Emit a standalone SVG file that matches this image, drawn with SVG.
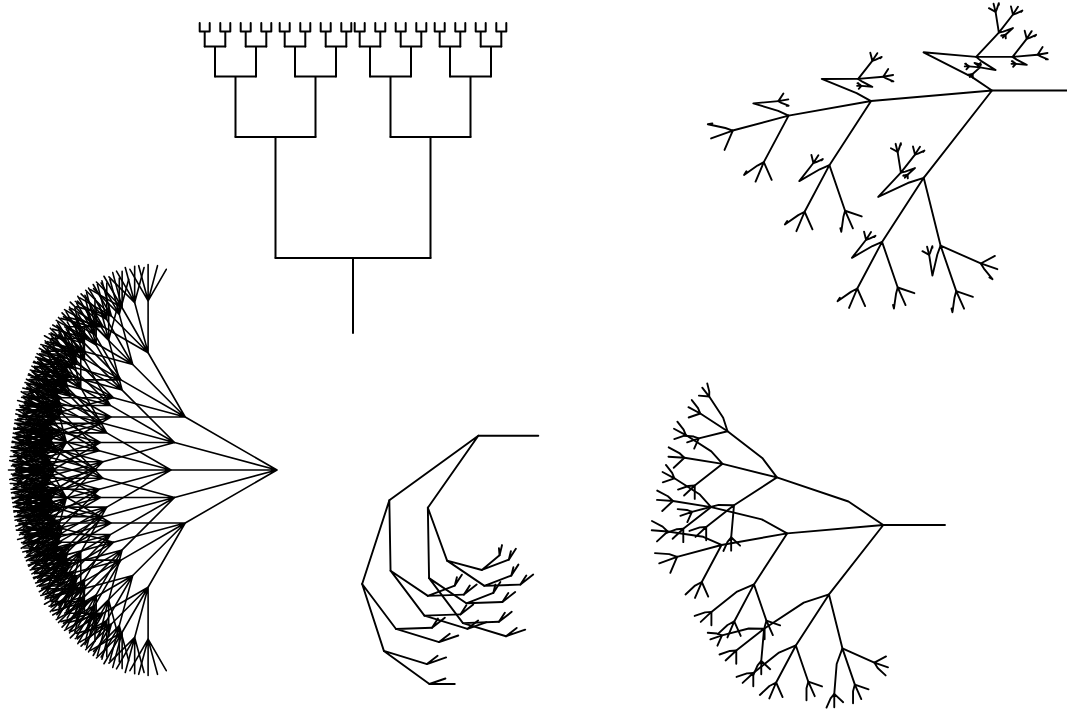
<svg xmlns="http://www.w3.org/2000/svg" width="1067" height="722" viewBox="0 0 1067 722">
<style>
path{fill:none;stroke:#000;stroke-width:1.9;vector-effect:non-scaling-stroke;stroke-linecap:round;stroke-linejoin:round}
path.h{stroke-width:2}
path.f{stroke-width:1.6}
</style>
<defs>
<path id="h5" class="h" d="M0 0V-15M-5-15H5M-5-15V-23.5M5-15V-23.5"/>
<g id="h4"><path class="h" d="M0 0V-30M-10.3-30H10.3"/><use href="#h5" x="-10.3" y="-30"/><use href="#h5" x="10.3" y="-30"/></g>
<g id="h3"><path class="h" d="M0 0V-60.5M-20.5-60.5H20.5"/><use href="#h4" x="-20.5" y="-60.5"/><use href="#h4" x="20.5" y="-60.5"/></g>
<g id="h2"><path class="h" d="M0 0V-121M-40-121H40"/><use href="#h3" x="-40" y="-121"/><use href="#h3" x="40" y="-121"/></g>

<path id="f1" class="f" d="M0 0L-86.6-50M0 0L-96.6-25.9M0 0H-100M0 0L-96.6 25.9M0 0L-86.6 50"/>
<g id="f2"><use href="#f1"/>
<use href="#f1" transform="translate(-86.6 -50) rotate(30) scale(.7)"/>
<use href="#f1" transform="translate(-96.6 -25.9) rotate(15) scale(.7)"/>
<use href="#f1" transform="translate(-100 0) scale(.7)"/>
<use href="#f1" transform="translate(-96.6 25.9) rotate(-15) scale(.7)"/>
<use href="#f1" transform="translate(-86.6 50) rotate(-30) scale(.7)"/></g>
<g id="f3"><use href="#f1"/>
<use href="#f2" transform="translate(-86.6 -50) rotate(30) scale(.7)"/>
<use href="#f2" transform="translate(-96.6 -25.9) rotate(15) scale(.7)"/>
<use href="#f2" transform="translate(-100 0) scale(.7)"/>
<use href="#f2" transform="translate(-96.6 25.9) rotate(-15) scale(.7)"/>
<use href="#f2" transform="translate(-86.6 50) rotate(-30) scale(.7)"/></g>
<g id="f4"><use href="#f1"/>
<use href="#f3" transform="translate(-86.6 -50) rotate(30) scale(.7)"/>
<use href="#f3" transform="translate(-96.6 -25.9) rotate(15) scale(.7)"/>
<use href="#f3" transform="translate(-100 0) scale(.7)"/>
<use href="#f3" transform="translate(-96.6 25.9) rotate(-15) scale(.7)"/>
<use href="#f3" transform="translate(-86.6 50) rotate(-30) scale(.7)"/></g>

<path id="s1" d="M0 0L-14.9-10.1L-44.4-20.3M0 0L-41.2 3.6M0 0L-23.3 29.8"/>
<path id="se" d="M0 0L-24.9-16.8L-76-34M0 0L-68.7 6M0 0L-38.8 49.6"/>
<g id="s2"><use href="#se"/>
<use href="#s1" transform="translate(-76 -34) rotate(19) scale(.58)"/>
<use href="#s1" transform="translate(-68.7 6) rotate(-5) scale(.69)"/>
<use href="#s1" transform="translate(-38.8 49.6) rotate(-52) scale(.63)"/></g>
<g id="s3"><use href="#se"/>
<use href="#s2" transform="translate(-76 -34) rotate(19) scale(.58)"/>
<use href="#s2" transform="translate(-68.7 6) rotate(-5) scale(.69)"/>
<use href="#s2" transform="translate(-38.8 49.6) rotate(-52) scale(.63)"/></g>
<g id="s4"><use href="#se"/>
<use href="#s3" transform="translate(-76 -34) rotate(19) scale(.58)"/>
<use href="#s3" transform="translate(-68.7 6) rotate(-5) scale(.69)"/>
<use href="#s3" transform="translate(-38.8 49.6) rotate(-52) scale(.63)"/></g>

<path id="t1" d="M0 0L-39.8 3.5M0 0L-22.5 28.8M0 0L-11.3-7.6L-38.9-21.7L-30.9-21"/>
<path id="te" d="M0 0L-68.7 6M0 0L-38.8 49.6M0 0L-11.3-7.6L-38.9-21.7L-9-19.1"/>
<g id="t2"><use href="#te"/>
<use href="#t1" transform="translate(-68.7 6) rotate(-5) scale(.69)"/>
<use href="#t1" transform="translate(-38.8 49.6) rotate(-52) scale(.63)"/>
<use href="#t1" transform="translate(-9 -19.1) rotate(-175) scale(.3)"/></g>
<g id="t3"><use href="#te"/>
<use href="#t2" transform="translate(-68.7 6) rotate(-5) scale(.69)"/>
<use href="#t2" transform="translate(-38.8 49.6) rotate(-52) scale(.63)"/>
<use href="#t2" transform="translate(-9 -19.1) rotate(-175) scale(.3)"/></g>
<g id="t4"><use href="#te"/>
<use href="#t3" transform="translate(-68.7 6) rotate(-5) scale(.69)"/>
<use href="#t3" transform="translate(-38.8 49.6) rotate(-52) scale(.63)"/>
<use href="#t3" transform="translate(-9 -19.1) rotate(-175) scale(.3)"/></g>

<path id="m1" d="M0 0L-36.4 26.5M0 0L-17.2 24.6"/>
<path id="me" d="M0 0L-64.7 47M0 0L-36.7 52.4"/>
<g id="m2"><use href="#me"/>
<use href="#m1" transform="translate(-64.7 47) rotate(-36) scale(.8)"/>
<use href="#m1" transform="translate(-36.7 52.4) rotate(-55) scale(.64)"/></g>
<g id="m3"><use href="#me"/>
<use href="#m2" transform="translate(-64.7 47) rotate(-36) scale(.8)"/>
<use href="#m2" transform="translate(-36.7 52.4) rotate(-55) scale(.64)"/></g>
<g id="m4"><use href="#me"/>
<use href="#m3" transform="translate(-64.7 47) rotate(-36) scale(.8)"/>
<use href="#m3" transform="translate(-36.7 52.4) rotate(-55) scale(.64)"/></g>
<g id="m5"><use href="#me"/>
<use href="#m4" transform="translate(-64.7 47) rotate(-36) scale(.8)"/>
<use href="#m4" transform="translate(-36.7 52.4) rotate(-55) scale(.64)"/></g>
</defs>

<rect width="1067" height="722" fill="#fff"/>

<g id="htree">
<path class="h" d="M353 333V258M275.5 258H430.5"/>
<use href="#h2" x="275.5" y="258"/>
<use href="#h2" x="430.5" y="258"/>
</g>

<g id="fan">
<use href="#f4" transform="translate(277 470) scale(1.06)"/>
</g>

<g id="tree-top-right">
<path d="M1067 90.5H992"/>
<use href="#t4" transform="translate(992 90.5) scale(1.76)"/>
</g>

<g id="tree-bottom-middle">
<path d="M538.3 435.7H478.3"/>
<use href="#m5" transform="translate(478.3 435.7) scale(1.375)"/>
</g>

<g id="tree-bottom-right">
<path d="M945 525H883.3"/>
<use href="#s4" transform="translate(883.3 525) scale(1.4)"/>
</g>
</svg>
